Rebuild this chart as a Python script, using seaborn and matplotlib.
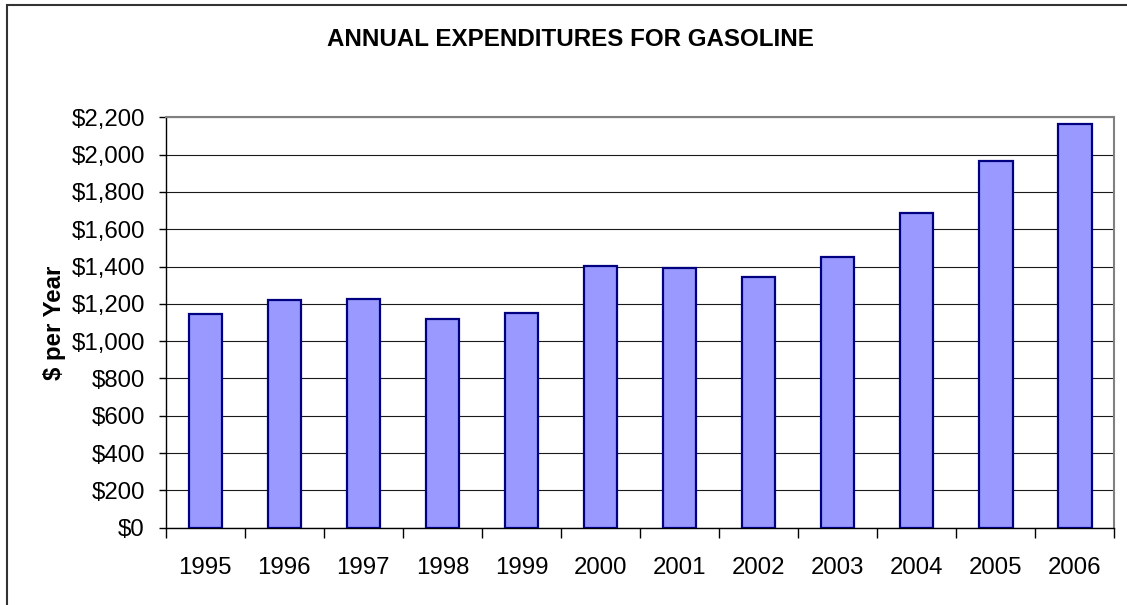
import matplotlib
matplotlib.use("Agg")
import matplotlib.pyplot as plt
from matplotlib.patches import Rectangle
from matplotlib.ticker import FixedLocator, StrMethodFormatter, MultipleLocator
import numpy as np
import pandas as pd
import seaborn as sns

# Annual household spending on gasoline
years = ["1995", "1996", "1997", "1998", "1999", "2000",
         "2001", "2002", "2003", "2004", "2005", "2006"]
spending = [1145, 1219, 1228, 1117, 1150, 1403,
            1391, 1346, 1451, 1687, 1966, 2165]

title = "ANNUAL EXPENDITURES FOR GASOLINE"
y_label = "$ per Year"

sns.set_theme(style="white")
plt.rcParams["font.family"] = ["Liberation Sans", "DejaVu Sans"]

df = pd.DataFrame({"year": years, "spending": spending})

fig = plt.figure(figsize=(11.27, 6.05), dpi=100)
ax = fig.add_axes([165.7 / 1127, 1 - 527.7 / 605,
                   (1114.5 - 165.7) / 1127, (527.7 - 117.3) / 605])

sns.barplot(data=df, x="year", y="spending", ax=ax, color="#9999FF",
            saturation=1, width=0.42, edgecolor="#000080", linewidth=1.6,
            zorder=3)

ax.set_xlim(-0.5, len(years) - 0.5)
ax.set_ylim(0, 2200)
ax.yaxis.set_major_locator(MultipleLocator(200))
ax.yaxis.set_major_formatter(StrMethodFormatter("${x:,.0f}"))

# horizontal gridlines
ax.grid(axis="y", color="#1a1a1a", linewidth=0.8, zorder=0)
ax.set_axisbelow(True)

# category labels without marks; tick marks at category boundaries
ax.tick_params(axis="x", which="major", length=0, pad=21, labelsize=17.3,
               labelcolor="black")
ax.xaxis.set_minor_locator(FixedLocator(np.arange(-0.5, len(years), 1.0)))
ax.tick_params(axis="x", which="minor", length=7, width=1, color="black",
               bottom=True, direction="out")
ax.tick_params(axis="y", which="major", length=5, width=1, color="black",
               left=True, direction="out", pad=10, labelsize=17.3,
               labelcolor="black")

ax.set_xlabel("")
ax.set_ylabel(y_label, fontsize=17.3, fontweight="bold", color="black",
              labelpad=4)

for side in ("left", "bottom"):
    ax.spines[side].set_color("black")
    ax.spines[side].set_linewidth(1.0)
for side in ("top", "right"):
    ax.spines[side].set_visible(True)
    ax.spines[side].set_color("#808080")
    ax.spines[side].set_linewidth(1.5)

fig.text(570 / 1127, 1 - 39.5 / 605, title, ha="center", va="center",
         fontsize=17.4, fontweight="bold", color="black")

# outer chart frame, open to the right and bottom
fig.patches.append(Rectangle((6.7 / 1127, -0.5), 2.0, 1.5 - 5 / 605,
                             transform=fig.transFigure, fill=False,
                             edgecolor="#333333", linewidth=1.5))

fig.savefig("out.png", dpi=100, facecolor="white")
